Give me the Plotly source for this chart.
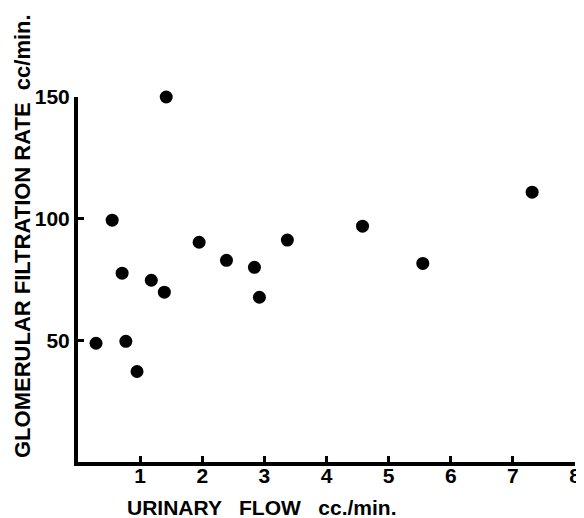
import plotly.graph_objects as go

urinary_flow = [0.29, 0.55, 0.71, 0.77, 0.95, 1.18, 1.39, 1.42, 1.95, 2.39, 2.84, 2.92, 3.37, 4.58, 5.55, 7.31]
gfr = [48.8, 99.4, 77.6, 49.6, 37.2, 74.7, 69.8, 150.0, 90.3, 82.9, 80.0, 67.7, 91.2, 96.9, 81.6, 110.9]

x_ticks = [1, 2, 3, 4, 5, 6, 7, 8]
y_ticks = [50, 100, 150]

FONT = "Liberation Sans"

# page body has 8px margin; compensate
W, H = 576, 510
L, T, PW, PH = 70, 89, 497, 365


def px(x):  # reference screen x -> paper
    return (x - 8 - L) / PW


def py(y):  # reference screen y -> paper
    return (T + PH - (y - 8)) / PH


fig = go.Figure()
fig.add_trace(go.Scatter(
    x=urinary_flow, y=gfr, mode="markers",
    marker=dict(size=13, color="black"),
    cliponaxis=False, showlegend=False,
))

fig.update_layout(
    width=W, height=H,
    margin=dict(l=L, r=W - L - PW, t=T, b=H - T - PH, pad=0, autoexpand=False),
    paper_bgcolor="white", plot_bgcolor="white",
    font=dict(family=FONT, color="black"),
    xaxis=dict(
        range=[0, 8], tickvals=x_ticks, ticktext=[str(v) for v in x_ticks],
        showline=True, linewidth=4, linecolor="black",
        ticks="inside", ticklen=6, tickwidth=3, tickcolor="black",
        showgrid=False, zeroline=False, ticklabelstandoff=-8,
        ticklabeloverflow="allow", automargin=False,
        tickfont=dict(family=FONT, size=21, weight="bold"),
    ),
    yaxis=dict(
        range=[0, 150], tickvals=y_ticks, ticktext=[str(v) for v in y_ticks],
        showline=True, linewidth=4, linecolor="black",
        ticks="inside", ticklen=6, tickwidth=3, tickcolor="black",
        showgrid=False, zeroline=False, ticklabeloverflow="allow",
        automargin=False,
        tickfont=dict(family=FONT, size=21, weight="bold"),
    ),
    annotations=[
        dict(text="URINARY   FLOW   cc./min.", xref="paper", yref="paper",
             x=px(262), y=py(507),
             xanchor="center", yanchor="middle", showarrow=False,
             font=dict(family=FONT, size=21, weight="bold")),
        dict(text="GLOMERULAR FILTRATION RATE  cc/min.", xref="paper", yref="paper",
             x=px(22), y=py(236),
             xanchor="center", yanchor="middle", showarrow=False, textangle=-90,
             font=dict(family=FONT, size=22, weight="bold")),
    ],
)

fig.write_html("out.html")
